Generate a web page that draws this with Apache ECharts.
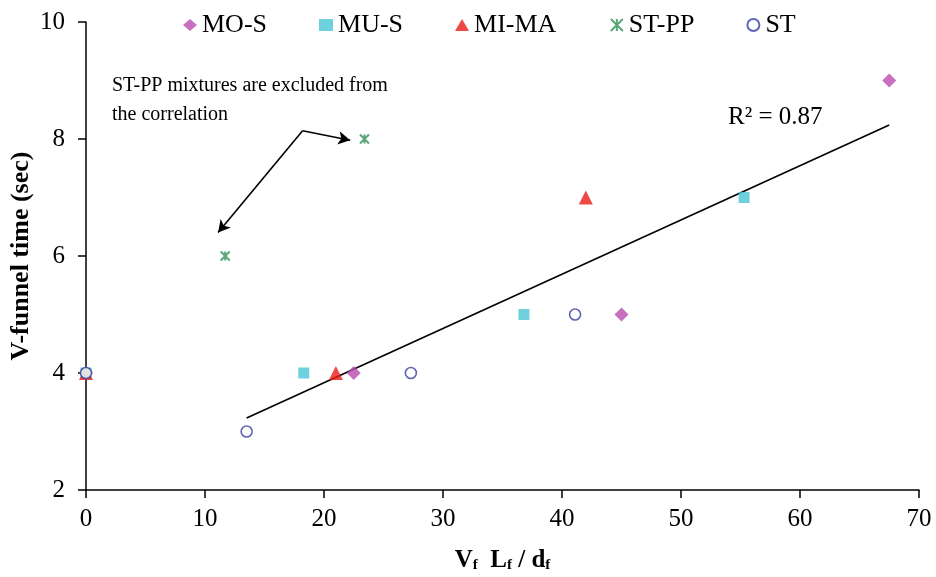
<!DOCTYPE html>
<html>
<head>
<meta charset="utf-8">
<script src="https://cdn.jsdelivr.net/npm/echarts@6/dist/echarts.min.js"></script>
<style>html,body{margin:0;padding:0;background:#fff}#c{width:936px;height:577px}</style>
</head>
<body>
<div id="c"></div>
<script>
// ---- data ----
var moS   = [[0, 4], [22.5, 4], [45, 5], [67.5, 9]];
var muS   = [[0, 4], [18.3, 4], [36.8, 5], [55.3, 7]];
var miMa  = [[0, 4], [21, 4], [42, 7]];
var stPP  = [[0, 4], [11.7, 6], [23.4, 8]];
var st    = [[0, 4], [13.5, 3], [27.3, 4], [41.1, 5]];
var trend = [[13.5, 3.23], [67.5, 8.24]];
var seriesNames = ['MO-S', 'MU-S', 'MI-MA', 'ST-PP', 'ST'];
var xTicks = [0, 10, 20, 30, 40, 50, 60, 70];
var yTicks = [2, 4, 6, 8, 10];
var arrowFrom = [18.2, 8.14];
var arrowTo1 = [11.1, 6.4];
var arrowTo2 = [22.2, 7.98];
var noteText = 'ST-PP mixtures are excluded from\nthe correlation';
var r2Text = 'R\u00b2 = 0.87';

var FONT = 'Liberation Serif';
var starPath = 'path://M0,0L10,10M10,0L0,10M5,0L5,10';

var chart = echarts.init(document.getElementById('c'));
chart.setOption({
  animation: false,
  backgroundColor: '#fff',
  textStyle: {fontFamily: FONT, color: '#000'},
  grid: {left: 86, right: 17, top: 22, bottom: 87, containLabel: false, outerBoundsMode: 'none'},
  legend: {
    data: seriesNames,
    top: 7, left: 178,
    itemGap: 52, itemWidth: 14, itemHeight: 12,
    textStyle: {fontFamily: FONT, fontSize: 26, color: '#000'}
  },
  xAxis: {
    type: 'value', min: xTicks[0], max: xTicks[xTicks.length - 1], interval: 10,
    axisLine: {lineStyle: {color: '#000', width: 1.5}},
    axisTick: {length: 8, lineStyle: {color: '#000', width: 1.5}},
    axisLabel: {margin: 17, fontFamily: FONT, fontSize: 25, color: '#000'},
    splitLine: {show: false},
    name: 'V{s|f}  L{s|f} / d{s|f}',
    nameLocation: 'middle', nameGap: 58, nameMoveOverlap: false,
    nameTextStyle: {
      fontFamily: FONT, fontSize: 25, fontWeight: 'bold', color: '#000',
      rich: {s: {fontFamily: FONT, fontSize: 15, fontWeight: 'bold', padding: [10, 0, 0, 0], color: '#000'}}
    }
  },
  yAxis: {
    type: 'value', min: yTicks[0], max: yTicks[yTicks.length - 1], interval: 2,
    axisLine: {lineStyle: {color: '#000', width: 1.5}},
    axisTick: {length: 8, lineStyle: {color: '#000', width: 1.5}},
    axisLabel: {margin: 21, fontFamily: FONT, fontSize: 25, color: '#000'},
    splitLine: {show: false},
    name: 'V-funnel time (sec)',
    nameLocation: 'middle', nameGap: 52, nameMoveOverlap: false,
    nameTextStyle: {fontFamily: FONT, fontSize: 26, fontWeight: 'bold', color: '#000'}
  },
  series: [
    {name: 'MO-S', type: 'scatter', symbol: 'diamond', symbolSize: 14, data: moS,
     itemStyle: {color: '#B84CAE'}},
    {name: 'MU-S', type: 'scatter', symbol: 'rect', symbolSize: 11, data: muS,
     itemStyle: {color: '#4CC5D6'}},
    {name: 'MI-MA', type: 'scatter', symbol: 'triangle', symbolSize: 14, data: miMa,
     itemStyle: {color: '#EA1C17'}},
    {name: 'ST-PP', type: 'scatter', symbol: starPath, symbolSize: 9, data: stPP,
     itemStyle: {color: 'none', borderColor: '#2F9157', borderWidth: 2}},
    {name: 'ST', type: 'scatter', symbol: 'circle', symbolSize: 11, data: st,
     itemStyle: {color: '#fff', borderColor: '#3B3FA3', borderWidth: 1.6}},
    {name: 'trend', type: 'line', data: trend, symbol: 'none', silent: true,
     lineStyle: {color: '#000', width: 1.6}, z: 1},
    {name: 'note', type: 'line', data: [], silent: true,
     markLine: {
       silent: true, symbol: ['none', 'arrow'], symbolSize: [10, 12],
       label: {show: false},
       lineStyle: {color: '#000', width: 1.6, type: 'solid'},
       data: [
         [{coord: arrowFrom}, {coord: arrowTo1}],
         [{coord: arrowFrom}, {coord: arrowTo2}]
       ]
     }}
  ],
  graphic: [
    {type: 'text', left: 112, top: 71,
     style: {text: noteText, fontFamily: FONT, fontSize: 20, lineHeight: 29, fill: '#000'}},
    {type: 'text', left: 728, top: 105,
     style: {text: r2Text, fontFamily: FONT, fontSize: 25, fill: '#000'}}
  ]
});
</script>
</body>
</html>
